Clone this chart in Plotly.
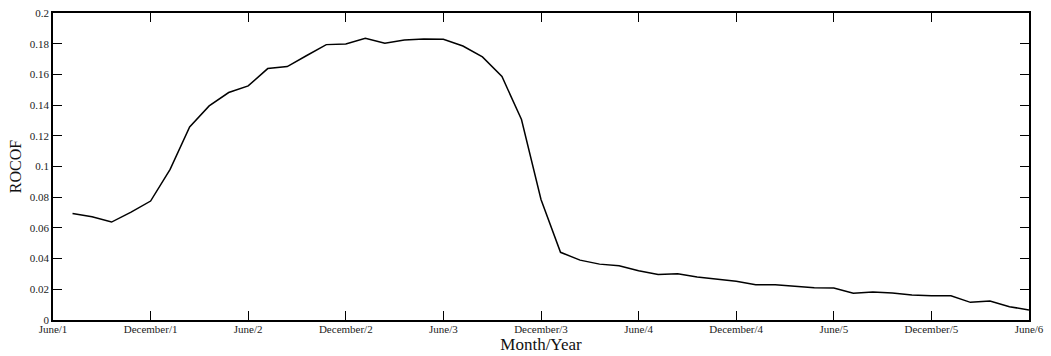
import plotly.graph_objects as go

# Sample index (50 samples spanning June/1 .. June/6)
sample = list(range(1, 51))

# Rate of change of frequency per sample
rocof = [
    0.0694, 0.0672, 0.0638, 0.0703, 0.0775, 0.0981, 0.1258, 0.1395, 0.1482, 0.1525,
    0.1638, 0.1651, 0.1723, 0.1794, 0.1798, 0.1835, 0.1803, 0.1824, 0.1830, 0.1829,
    0.1785, 0.1714, 0.1586, 0.1306, 0.0785, 0.0441, 0.0390, 0.0364, 0.0354, 0.0321,
    0.0297, 0.0302, 0.0280, 0.0265, 0.0252, 0.0230, 0.0230, 0.0220, 0.0210, 0.0208,
    0.0174, 0.0182, 0.0176, 0.0163, 0.0158, 0.0158, 0.0115, 0.0124, 0.0087, 0.0065,
]

x_tickvals = [0, 5, 10, 15, 20, 25, 30, 35, 40, 45, 50]
x_ticklabels = [
    "June/1", "December/1", "June/2", "December/2", "June/3", "December/3",
    "June/4", "December/4", "June/5", "December/5", "June/6",
]
y_tickvals = [0, 0.02, 0.04, 0.06, 0.08, 0.1, 0.12, 0.14, 0.16, 0.18, 0.2]
y_ticklabels = ["0", "0.02", "0.04", "0.06", "0.08", "0.1", "0.12", "0.14", "0.16", "0.18", "0.2"]

serif = "Liberation Serif, Times New Roman, serif"

fig = go.Figure(
    go.Scatter(
        x=sample,
        y=rocof,
        mode="lines",
        line=dict(color="black", width=1.5),
        showlegend=False,
    )
)

axis_common = dict(
    showgrid=False,
    zeroline=False,
    showline=True,
    linecolor="black",
    linewidth=1.5,
    mirror="ticks",
    ticks="inside",
    ticklen=9,
    tickwidth=1.2,
    tickcolor="black",
    automargin=False,
    tickfont=dict(family=serif, size=11, color="#222"),
)

fig.update_xaxes(
    range=[0, 50],
    tickmode="array",
    tickvals=x_tickvals,
    ticktext=x_ticklabels,
    ticklabelstandoff=-2,
    title=dict(text="Month/Year", font=dict(family=serif, size=17, color="#111"), standoff=0),
    **axis_common,
)
fig.update_yaxes(
    range=[0, 0.2],
    tickmode="array",
    tickvals=y_tickvals,
    ticktext=y_ticklabels,
    title=dict(text="ROCOF", font=dict(family=serif, size=16, color="#111"), standoff=4),
    **axis_common,
)

fig.update_layout(
    width=1051,
    height=356,
    margin=dict(l=53, r=22, t=13, b=36),
    paper_bgcolor="white",
    plot_bgcolor="white",
)

fig.write_html("out.html")
